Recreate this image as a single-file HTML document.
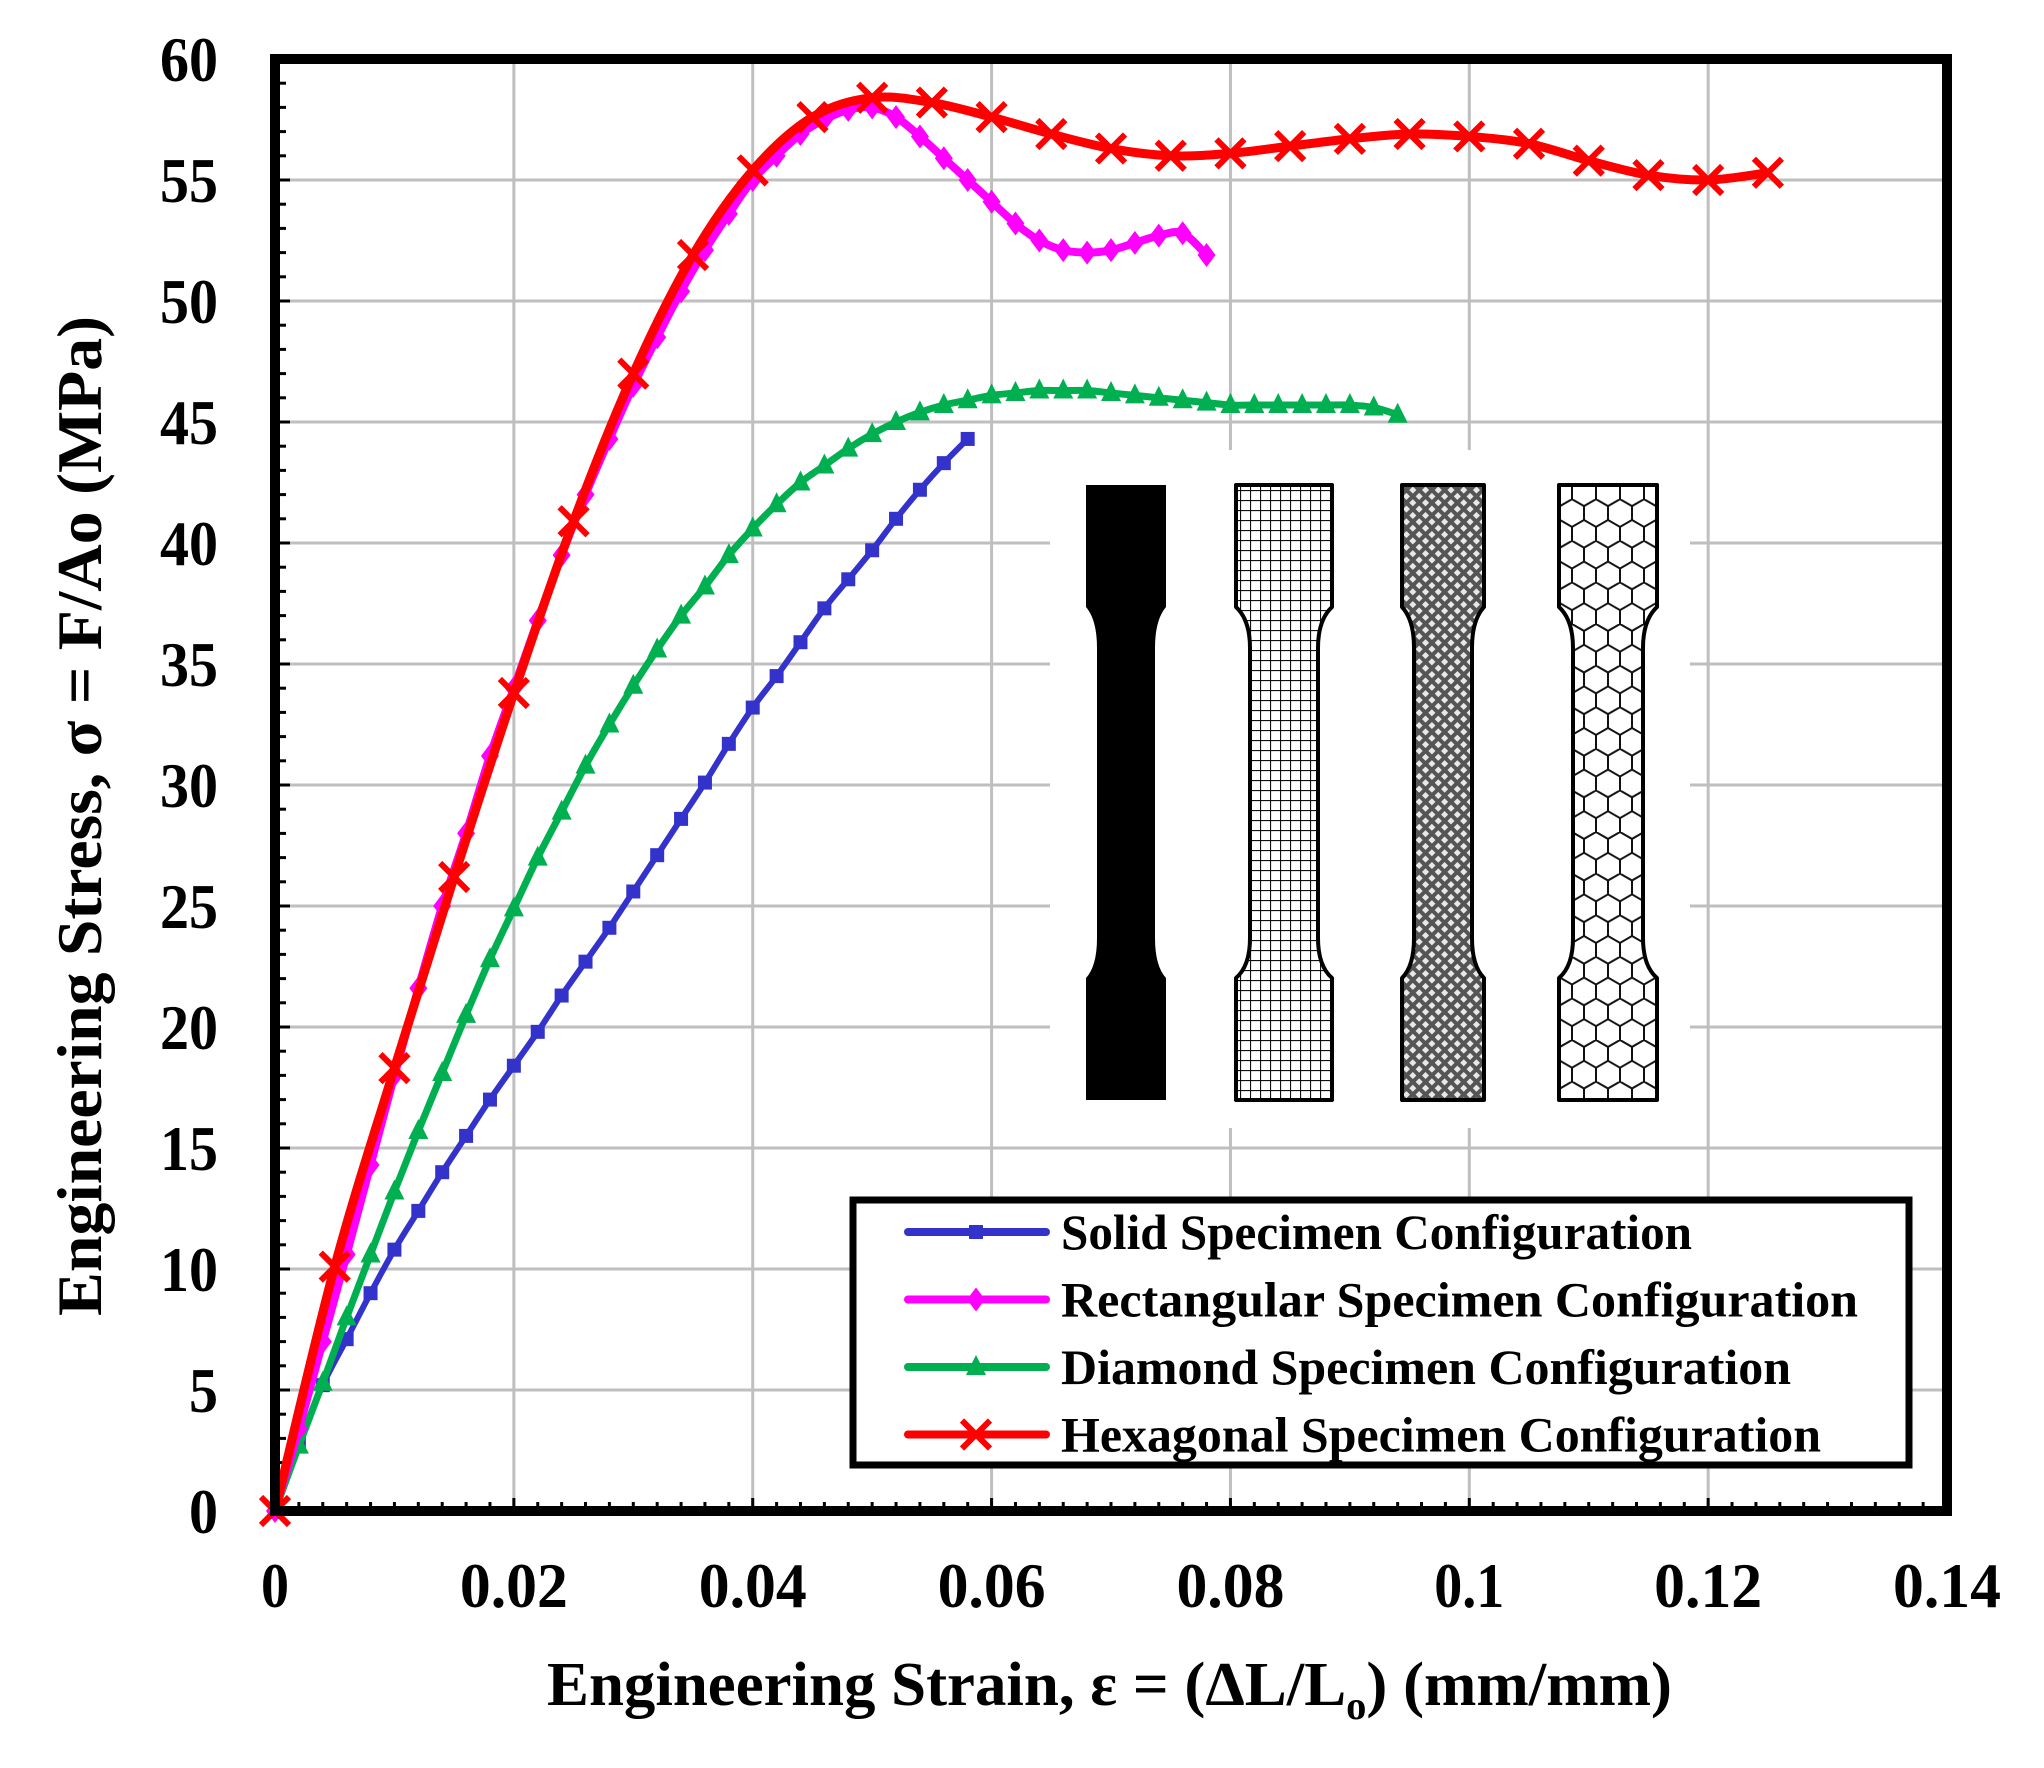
<!DOCTYPE html>
<html><head><meta charset="utf-8"><style>
html,body{margin:0;padding:0;background:#fff}
svg{display:block}
text{font-family:"Liberation Serif","DejaVu Serif",serif;font-weight:bold;fill:#000}
</style></head><body>
<svg id="s" width="2044" height="1768" viewBox="0 0 2044 1768" xmlns="http://www.w3.org/2000/svg">
<defs>
<pattern id="pg" width="10" height="10" patternUnits="userSpaceOnUse"><rect width="10" height="10" fill="#fff"/><path d="M0 0H10M0 0V10" stroke="#111" stroke-width="2.2"/></pattern>
<pattern id="pd" width="9" height="9" patternUnits="userSpaceOnUse" patternTransform="rotate(45)"><rect width="9" height="9" fill="#555"/><rect x="2" y="2" width="5" height="5" fill="#e8e8e8"/></pattern>
<pattern id="ph" width="24" height="41.6" patternUnits="userSpaceOnUse"><rect width="24" height="41.6" fill="#fff"/><path d="M0 6.9 L12 0 L24 6.9 M12 0 V-7 M0 6.9 V20.8 L12 27.7 L24 20.8 V6.9 M12 27.7 V41.6" fill="none" stroke="#111" stroke-width="2"/></pattern>
</defs>
<g id="g"></g>
</svg>
<script>
const NS="http://www.w3.org/2000/svg";
const g=document.getElementById('g');
function el(t,a,p){const e=document.createElementNS(NS,t);for(const k in a)e.setAttribute(k,a[k]);(p||g).appendChild(e);return e;}
function tx(s,a){const e=el('text',a);e.textContent=s;return e;}
const X=v=>275+11943*v, Y=v=>1511-24.2*v;
for(let i=1;i<7;i++){el('line',{x1:X(i*0.02),x2:X(i*0.02),y1:59,y2:1511,stroke:'#bfbfbf','stroke-width':3});}
for(let i=1;i<12;i++){el('line',{x1:275,x2:1947,y1:Y(i*5),y2:Y(i*5),stroke:'#bfbfbf','stroke-width':3});}
el('rect',{x:1050,y:450,width:640,height:678,fill:'#fff'});
function spec(x0,x1,d,fill,sw){
 const t=485,b=1100;
 const p=`M${x0} ${t}H${x1}V607Q${x1-d} 620 ${x1-d} 648V938Q${x1-d} 966 ${x1} 978V${b}H${x0}V978Q${x0+d} 966 ${x0+d} 938V648Q${x0+d} 620 ${x0} 607Z`;
 el('path',{d:p,fill:fill,stroke:'#000','stroke-width':sw,'stroke-linejoin':'round'});
}
spec(1086,1166,11,'#000',0);
spec(1236,1332,14,'url(#pg)',4);
spec(1402,1484,12,'url(#pd)',4);
spec(1559,1657,14,'url(#ph)',4);
for(let i=1;i<70;i++){const x=X(i*0.002);el('line',{x1:x,x2:x,y1:1511,y2:(i%10==0?1498:1502),stroke:'#000','stroke-width':3});}
for(let i=1;i<60;i++){const y=Y(i);el('line',{x1:275,x2:(i%5==0?290:286),y1:y,y2:y,stroke:'#000','stroke-width':3});}
const solid=[[0,0],[.002,2.8],[.004,5.2],[.006,7.1],[.008,9],[.01,10.8],[.012,12.4],[.014,14],[.016,15.5],[.018,17],[.02,18.4],[.022,19.8],[.024,21.3],[.026,22.7],[.028,24.1],[.03,25.6],[.032,27.1],[.034,28.6],[.036,30.1],[.038,31.7],[.04,33.2],[.042,34.5],[.044,35.9],[.046,37.3],[.048,38.5],[.05,39.7],[.052,41],[.054,42.2],[.056,43.3],[.058,44.3]];
const dia=[[0,0],[.002,2.7],[.004,5.3],[.006,8],[.008,10.6],[.01,13.2],[.012,15.7],[.014,18.1],[.016,20.5],[.018,22.8],[.02,24.9],[.022,27],[.024,28.9],[.026,30.8],[.028,32.5],[.03,34.1],[.032,35.6],[.034,37],[.036,38.2],[.038,39.5],[.04,40.6],[.042,41.6],[.044,42.5],[.046,43.2],[.048,43.9],[.05,44.5],[.052,45],[.054,45.4],[.056,45.7],[.058,45.9],[.06,46.1],[.062,46.2],[.064,46.3],[.066,46.3],[.068,46.3],[.07,46.2],[.072,46.1],[.074,46],[.076,45.9],[.078,45.8],[.08,45.7],[.082,45.7],[.084,45.7],[.086,45.7],[.088,45.7],[.09,45.7],[.092,45.6],[.094,45.3]];
const rect=[[0,0],[.002,3.4],[.004,7],[.006,10.6],[.008,14.3],[.01,18],[.012,21.6],[.014,25],[.016,28],[.018,31.2],[.02,34],[.022,36.8],[.024,39.5],[.026,42],[.028,44.3],[.03,46.5],[.032,48.5],[.034,50.4],[.036,52.1],[.038,53.6],[.04,55],[.042,56],[.044,56.9],[.046,57.5],[.048,57.9],[.05,58],[.052,57.6],[.054,56.8],[.056,55.9],[.058,55],[.06,54.1],[.062,53.2],[.064,52.5],[.066,52.1],[.068,52],[.07,52.1],[.072,52.4],[.074,52.7],[.076,52.8],[.078,51.9]];
const hex=[[0,0],[.005,10.1],[.01,18.3],[.015,26.2],[.02,33.8],[.025,40.9],[.03,47],[.035,51.9],[.04,55.4],[.045,57.6],[.05,58.4],[.055,58.2],[.06,57.6],[.065,56.9],[.07,56.3],[.075,56],[.08,56.1],[.085,56.4],[.09,56.7],[.095,56.9],[.1,56.8],[.105,56.5],[.11,55.8],[.115,55.2],[.12,55],[.125,55.3]];
function path(d){const p=d.map(a=>[X(a[0]),Y(a[1])]);let s=`M${p[0][0]} ${p[0][1]}`;
 for(let i=0;i<p.length-1;i++){const p0=p[Math.max(0,i-1)],p1=p[i],p2=p[i+1],p3=p[Math.min(p.length-1,i+2)];
 s+=`C${p1[0]+(p2[0]-p0[0])/6} ${p1[1]+(p2[1]-p0[1])/6} ${p2[0]-(p3[0]-p1[0])/6} ${p2[1]-(p3[1]-p1[1])/6} ${p2[0]} ${p2[1]}`;}return s;}
function mk(type,x,y,c){
 if(type=='sq')el('rect',{x:x-7,y:y-7,width:14,height:14,fill:c});
 else if(type=='di')el('path',{d:`M${x} ${y-12}L${x+9} ${y}L${x} ${y+12}L${x-9} ${y}Z`,fill:c});
 else if(type=='tr')el('path',{d:`M${x} ${y-12}L${x+10} ${y+8}L${x-10} ${y+8}Z`,fill:c});
 else{el('path',{d:`M${x-14} ${y-14}L${x+14} ${y+14}M${x-14} ${y+14}L${x+14} ${y-14}`,stroke:c,'stroke-width':6});}
}
function series(d,c,w,t){el('path',{d:path(d),fill:'none',stroke:c,'stroke-width':w,'stroke-linejoin':'round'});d.forEach(a=>mk(t,X(a[0]),Y(a[1]),c));}
series(solid,'#3333cc',6,'sq');
series(dia,'#00b050',7,'tr');
series(rect,'#ff00ff',8,'di');
series(hex,'#ff0000',9,'x');
el('rect',{x:275,y:59,width:1672,height:1452,fill:'none',stroke:'#000','stroke-width':10});
for(let i=0;i<=12;i++){const s=String(i*5);tx(s,{x:218,y:Y(i*5)+22,'font-size':64,'text-anchor':'end',textLength:s.length*29,lengthAdjust:'spacingAndGlyphs'});}
const xl=['0','0.02','0.04','0.06','0.08','0.1','0.12','0.14'];
xl.forEach((s,i)=>{const w=s.length==1?28:(s.length==3?70:108);tx(s,{x:X(i*0.02),y:1607,'font-size':64,'text-anchor':'middle',textLength:w,lengthAdjust:'spacingAndGlyphs'});});
const xt=tx('',{x:547,y:1705,'font-size':62,textLength:1125,lengthAdjust:'spacingAndGlyphs'});
xt.innerHTML='Engineering Strain, ε = (ΔL/L<tspan font-size="40" dy="14">o</tspan><tspan dy="-14">) (mm/mm)</tspan>';
tx('Engineering Stress, σ = F/Ao (MPa)',{x:0,y:0,'font-size':64,transform:'translate(101,1316) rotate(-90)',textLength:1000,lengthAdjust:'spacingAndGlyphs'});
el('rect',{x:853,y:1200,width:1056,height:265,fill:'#fff',stroke:'#000','stroke-width':7});
const L=[['Solid Specimen Configuration','#3333cc','sq',631],['Rectangular Specimen Configuration','#ff00ff','di',797],['Diamond Specimen Configuration','#00b050','tr',730],['Hexagonal Specimen Configuration','#ff0000','x',760]];
L.forEach((l,i)=>{const y=1232+i*67.5;el('line',{x1:908,x2:1046,y1:y,y2:y,stroke:l[1],'stroke-width':8,'stroke-linecap':'round'});mk(l[2],976,y,l[1]);
 tx(l[0],{x:1061,y:y+17,'font-size':50,textLength:l[3],lengthAdjust:'spacingAndGlyphs'});});
</script>
</body></html>
